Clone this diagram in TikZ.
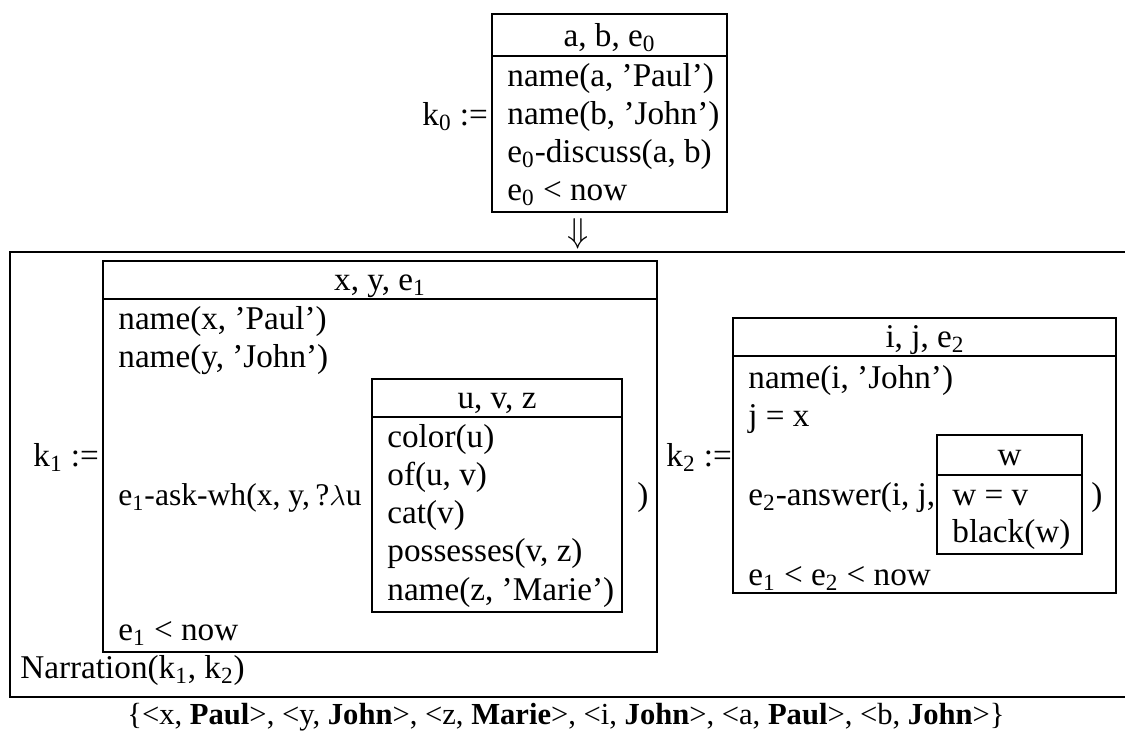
\documentclass[tikz,border=0pt]{standalone}
\usepackage{fontspec}
\setmainfont{Liberation Serif}
\newcommand{\sbs}[1]{\textsubscript{#1}}
\begin{document}
\begin{tikzpicture}[x=0.5pt,y=-0.5pt,
  txt/.style={inner sep=0pt, text height=0.68em, text depth=0.2em, yshift=-3pt, font=\fontsize{16.6}{19}\selectfont},
  lt/.style={txt,anchor=west},
  ct/.style={txt,anchor=center},
  drs/.style={line width=1pt}]
\useasboundingbox (0,0) rectangle (1125,731);

% k0
\node[lt] (k0lab) at (422,115) {k\sbs{0} :=};
\draw[drs] (492,14) rectangle (727,212);
\draw[drs] (492,56) -- (727,56);
\node[ct] (k0u) at (609.5,36) {a, b, e\sbs{0}};
\node[lt] (k0c1) at (507,76) {name(a, 'Paul')};
\node[lt] (k0c2) at (507,114) {name(b, 'John')};
\node[lt] (k0c3) at (507,152) {e\sbs{0}-discuss(a, b)};
\node[lt] (k0c4) at (507,190) {e\sbs{0} < now};
\node[ct] (arr) at (578,232) {$\Downarrow$};

% outer box
\draw[drs] (1125,252) -- (10,252) -- (10,697) -- (1125,697);

% k1
\node[lt] (k1lab) at (33,456) {k\sbs{1} :=};
\draw[drs] (103,261) rectangle (657,652);
\draw[drs] (103,299) -- (657,299);
\node[ct] (k1u) at (380,280) {x, y, e\sbs{1}};
\node[lt] (k1c1) at (118,319) {name(x, 'Paul')};
\node[lt] (k1c2) at (118,357) {name(y, 'John')};
\node[lt, font=\fontsize{15.8}{19}\selectfont] (k1c3) at (118,495) {e\sbs{1}-ask-wh(x, y,\,?$\lambda$u};
\node[lt] (k1c4) at (118,630) {e\sbs{1} < now};

% u v z
\draw[drs] (372,379) rectangle (622,612);
\draw[drs] (372,417) -- (622,417);
\node[ct] (uvz) at (497,398) {u, v, z};
\node[lt] (q1) at (387,437) {color(u)};
\node[lt] (q2) at (387,475) {of(u, v)};
\node[lt] (q3) at (387,513) {cat(v)};
\node[lt] (q4) at (387,551) {possesses(v, z)};
\node[lt] (q5) at (387,590) {name(z, 'Marie')};
\node[ct] (p1) at (643,495) {)};

% k2
\node[lt] (k2lab) at (666,456) {k\sbs{2} :=};
\draw[drs] (733,318) rectangle (1116,593);
\draw[drs] (733,356) -- (1116,356);
\node[ct] (k2u) at (925,337) {i, j, e\sbs{2}};
\node[lt] (k2c1) at (748,378) {name(i, 'John')};
\node[lt] (k2c2) at (748,416) {j = x};
\node[lt] (k2c3) at (748,495) {e\sbs{2}-answer(i, j,};
\node[lt] (k2c4) at (748,575) {e\sbs{1} < e\sbs{2} < now};

% w
\draw[drs] (937,435) rectangle (1082,554);
\draw[drs] (937,475) -- (1082,475);
\node[ct] (wu) at (1009.5,455) {w};
\node[lt] (w1) at (952,495) {w = v};
\node[lt] (w2) at (952,532) {black(w)};
\node[ct] (p2) at (1097,495) {)};

% narration and bottom
\node[lt] (narr) at (20,668) {Narration(k\sbs{1}, k\sbs{2})};
\node[ct, font=\fontsize{15.3}{18}\selectfont] (anch) at (566,714) {\{<x, \textbf{Paul}>, <y, \textbf{John}>, <z, \textbf{Marie}>, <i, \textbf{John}>, <a, \textbf{Paul}>, <b, \textbf{John}>\}};
\end{tikzpicture}
\end{document}
